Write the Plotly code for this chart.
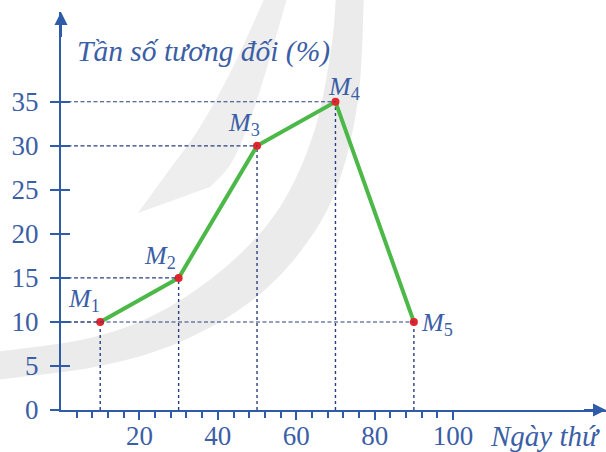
import plotly.graph_objects as go

# ---- data ----
days = [10, 30, 50, 70, 90]            # midpoints (Ngày thứ)
freq = [10, 15, 30, 35, 10]            # relative frequency (%)
point_names = ["<i>M</i><sub>1</sub>", "<i>M</i><sub>2</sub>", "<i>M</i><sub>3</sub>",
               "<i>M</i><sub>4</sub>", "<i>M</i><sub>5</sub>"]
x_tick_vals = [20, 40, 60, 80, 100]
x_tick_text = ["20", "40", "60", "80", "100"]
x_minor_vals = [v for v in range(4, 101, 4) if v % 20 != 0]
y_tick_vals = [0, 5, 10, 15, 20, 25, 30, 35]
y_tick_text = ["0", "5", "10", "15", "20", "25", "30", "35"]
x_title = "Ngày thứ"
y_title = "Tần số tương đối (%)"

# ---- style ----
AXIS = "#2f5ca8"
LABEL = "#3b5ea6"
DASH = "#2a3f80"
GREEN = "#4cb848"
RED = "#e3262b"
SERIF = "Liberation Serif, Times New Roman, serif"
label_offsets = [(-16, 22), (-19, 21), (-13, 22), (9, 14), (23, -2)]

W, H = 606, 452
ML, MR, MT, MB = 61, 0, 12, 42
XMAX, YMAX = 139, 45.2
PH = H - MT - MB

fig = go.Figure()

# ---- faint background watermark (decorative, pixel outline -> paper coords) ----
def to_paper(pts):
    pw = W - ML - MR
    return [((px - ML) / pw, (H - MB - py) / PH) for px, py in pts]

def smooth_path(pts):
    # Catmull-Rom through points -> cubic Bezier SVG path
    n = len(pts)
    d = f"M{pts[0][0]:.4f},{pts[0][1]:.4f}"
    for i in range(n - 1):
        p0 = pts[i - 1] if i > 0 else pts[i]
        p1, p2 = pts[i], pts[i + 1]
        p3 = pts[i + 2] if i + 2 < n else pts[i + 1]
        c1 = (p1[0] + (p2[0] - p0[0]) / 6, p1[1] + (p2[1] - p0[1]) / 6)
        c2 = (p2[0] - (p3[0] - p1[0]) / 6, p2[1] - (p3[1] - p1[1]) / 6)
        d += f" C{c1[0]:.4f},{c1[1]:.4f} {c2[0]:.4f},{c2[1]:.4f} {p2[0]:.4f},{p2[1]:.4f}"
    return d

band_outer = [(364, -5), (358, 100), (336, 190), (300, 252), (250, 302), (180, 342), (100, 366), (-5, 380)]
band_inner = [(-5, 352), (90, 338), (160, 312), (228, 265), (280, 207), (314, 132), (331, 50), (336, -5)]
pa = to_paper(band_outer)
pb = to_paper(band_inner)
path_a = smooth_path(pa) + " L" + smooth_path(pb)[1:] + " Z"
fig.add_shape(type="path", path=path_a, xref="paper", yref="paper",
              fillcolor="#ebebeb", line=dict(width=0), layer="below")

wedge_left = [(266, -5), (233, 67), (200, 127), (167, 173), (138, 213)]
wedge_right = [(210, 187), (233, 160), (257, 100), (288, -5)]
pl = to_paper(wedge_left)
pr = to_paper(wedge_right)
path_b = smooth_path(pl) + " L" + smooth_path(pr)[1:] + " Z"
fig.add_shape(type="path", path=path_b, xref="paper", yref="paper",
              fillcolor="#eeeeee", line=dict(width=0), layer="below")

# dashed guide lines (horizontal to y-axis, vertical to x-axis)
hx, hy, vx, vy = [], [], [], []
for x, y in zip(days, freq):
    hx += [0, x, None]
    hy += [y, y, None]
    vx += [x, x, None]
    vy += [0, y, None]
fig.add_trace(go.Scatter(x=hx, y=hy, mode="lines", hoverinfo="skip", yaxis="y2",
                         line=dict(color=DASH, width=1.1, dash="4px,2.5px")))
fig.add_trace(go.Scatter(x=vx, y=vy, mode="lines", hoverinfo="skip",
                         line=dict(color=DASH, width=1.4, dash="3px,3px")))

# polygon line
fig.add_trace(go.Scatter(x=days, y=freq, mode="lines+markers",
                         line=dict(color=GREEN, width=4),
                         marker=dict(color=RED, size=8)))

# point labels
for (x, y, name, (dx, dy)) in zip(days, freq, point_names, label_offsets):
    fig.add_annotation(x=x, y=y, text=name, showarrow=False,
                       xshift=dx, yshift=dy,
                       font=dict(family=SERIF, size=26, color=LABEL),
                       xanchor="center", yanchor="middle")

# axis arrows
fig.add_annotation(x=XMAX, y=0, ax=XMAX - 6, ay=0, xref="x", yref="y",
                   axref="x", ayref="y", showarrow=True, arrowhead=2,
                   arrowsize=1.3, arrowwidth=2, arrowcolor=AXIS, text="")
fig.add_annotation(x=0, y=YMAX, ax=0, ay=YMAX - 3, xref="x", yref="y",
                   axref="x", ayref="y", showarrow=True, arrowhead=2,
                   arrowsize=1.3, arrowwidth=2, arrowcolor=AXIS, text="")

# axis titles
fig.add_annotation(x=123.5, y=-26 / PH, xref="x", yref="paper", text=x_title,
                   showarrow=False,
                   font=dict(family=SERIF, size=29, color=LABEL, style="italic"),
                   xanchor="center", yanchor="middle")
fig.add_annotation(x=36.3, y=40.7, text=y_title, showarrow=False,
                   font=dict(family=SERIF, size=29.5, color=LABEL, style="italic"),
                   xanchor="center", yanchor="middle")

fig.update_layout(
    width=W, height=H,
    margin=dict(l=ML, r=MR, t=MT, b=MB),
    paper_bgcolor="white", plot_bgcolor="white",
    showlegend=False,
    xaxis=dict(range=[0, XMAX], showgrid=False, zeroline=False, automargin=False,
               showline=True, linecolor=AXIS, linewidth=2,
               tickmode="array", tickvals=x_tick_vals, ticktext=x_tick_text,
               ticks="outside", ticklen=8, tickwidth=2, tickcolor=AXIS,
               ticklabelstandoff=-7,
               tickfont=dict(family=SERIF, size=27, color=LABEL),
               minor=dict(tickmode="array", tickvals=x_minor_vals,
                          ticks="outside", ticklen=6, tickwidth=1.5,
                          tickcolor=AXIS, showgrid=False)),
    yaxis=dict(range=[0, YMAX], showgrid=False, zeroline=False, automargin=False,
               showline=True, linecolor=AXIS, linewidth=2,
               tickmode="array", tickvals=y_tick_vals, ticktext=y_tick_text,
               ticks="outside", ticklen=9, tickwidth=1.5, tickcolor=AXIS,
               ticklabelstandoff=6,
               tickfont=dict(family=SERIF, size=27, color=LABEL)),
    yaxis2=dict(range=[0, YMAX], overlaying="y", side="left", automargin=False,
                showgrid=False, zeroline=False, showline=False,
                tickmode="array", tickvals=y_tick_vals[1:],
                ticks="inside", ticklen=9, tickwidth=1.5, tickcolor=AXIS,
                showticklabels=False),
)

fig.write_html("out.html", config={"displayModeBar": False},
               post_script="document.body.style.margin='0';document.body.style.overflow='hidden';")
